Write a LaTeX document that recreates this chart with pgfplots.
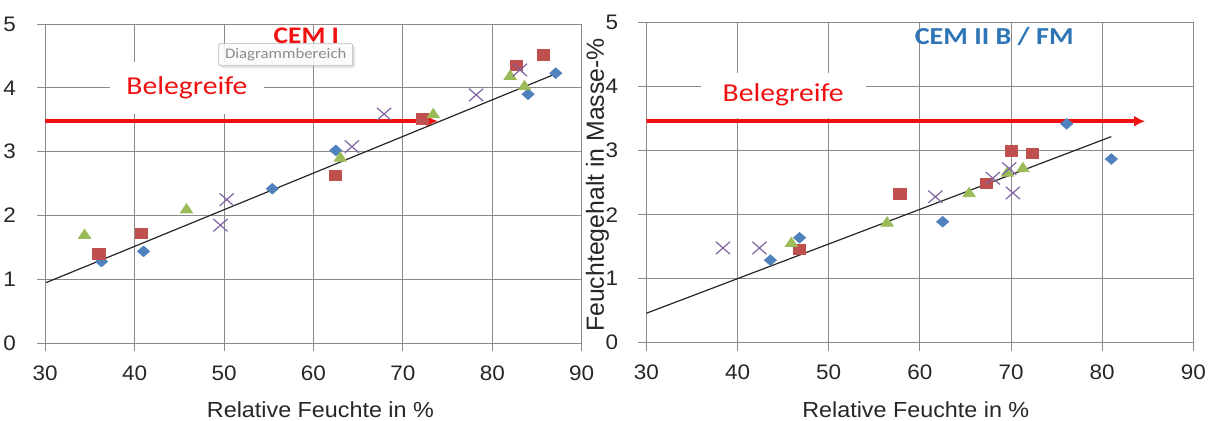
\documentclass[border=0pt]{standalone}
\usepackage{fontspec}
\setmainfont[FakeStretch=1.07]{Liberation Sans}
\newfontfamily\plainsans{Liberation Sans}
\newfontfamily\calibri[FakeStretch=1.15]{Carlito}
\usepackage{pgfplots}
\pgfplotsset{compat=1.18}
\usetikzlibrary{arrows.meta,shadows}

\definecolor{xlblue}{HTML}{4F81BD}
\definecolor{xlred}{HTML}{C0504D}
\definecolor{xlgreen}{HTML}{9BBB59}
\definecolor{xlpurple}{HTML}{8064A2}
\definecolor{gridgray}{HTML}{8A8A8A}
\definecolor{cemblue}{HTML}{2E75B6}
\definecolor{signalred}{HTML}{F01010}

\tikzset{
  reifetext/.style={fill=white, text=signalred, inner sep=0pt,
    font=\calibri\fontsize{12.9}{14}\selectfont},
}

\pgfplotsset{
  feuchte/.style={
    scale only axis,
    xmin=30, xmax=90, ymin=0, ymax=5,
    xtick={30,40,...,90}, ytick={0,1,...,5},
    grid=major,
    major grid style={gridgray, line width=0.5pt},
    axis line style={gridgray, line width=0.5pt},
    tick style={gridgray, line width=0.5pt},
    tick align=outside, tick pos=left, major tick length=4pt,
    /pgf/number format/assume math mode=true,
    tick label style={font=\fontsize{10.5}{12}\selectfont, text=black!85},
    xticklabel style={inner sep=0pt, anchor=north, yshift=-6.9pt},
    xlabel style={font=\fontsize{10.9}{12}\selectfont, text=black!85, inner sep=0pt,
      anchor=north, yshift=-29.2pt},
    xlabel={Relative Feuchte in \%},
  },
  diamondmark/.style={only marks, mark=square*, mark size=1.86pt,
    mark options={xscale=1.14, rotate=45, fill=xlblue, draw=xlblue}},
  squaremark/.style={only marks, mark=square*, mark size=2.67pt,
    mark options={xscale=1.14, fill=xlred, draw=xlred}},
  trianglemark/.style={only marks, mark=triangle*, mark size=3.1pt,
    mark options={xscale=1.14, fill=xlgreen, draw=xlgreen}},
  crossmark/.style={only marks, mark=x, mark size=4.4pt,
    mark options={xscale=1.14, draw=xlpurple, line width=0.6pt}},
  trend/.style={black!85, line width=0.6pt},
  reifepfeil/.style={signalred, line width=1.8pt, -{Latex[length=5.5pt,width=5.5pt]}},
}

\begin{document}
\begin{tikzpicture}
\useasboundingbox (0,0) rectangle (608.5pt,-210.5pt);

% CEM I
\begin{axis}[feuchte,
  at={(22.6pt,-171.65pt)}, anchor=south west,
  width=268.25pt, height=159.65pt,
  yticklabel style={inner sep=0pt, anchor=east, xshift=-10.5pt},
  xlabel style={at={(axis description cs:0.513,0)}},
]
\addplot[diamondmark] coordinates {(36.3,1.28) (41.0,1.44) (55.4,2.42) (62.5,3.02) (84.0,3.90) (87.1,4.23)};
\addplot[squaremark] coordinates {(36.0,1.40) (40.8,1.72) (62.5,2.63) (72.2,3.51) (82.7,4.35) (85.7,4.52)};
\addplot[trianglemark] coordinates {(34.4,1.69) (45.8,2.09) (63.0,2.90) (73.4,3.58) (82.0,4.18) (83.6,4.02)};
\addplot[crossmark] coordinates {(49.6,1.85) (50.3,2.25) (64.3,3.08) (67.9,3.59) (78.2,3.89) (83.1,4.28)};
\addplot[trend] coordinates {(30.1,0.95) (87.1,4.22)};
\addplot[reifepfeil] coordinates {(30,3.48) (73.9,3.48)};
\node[reifetext, minimum width=77.3pt, minimum height=25.9pt] at (axis cs:45.85,4.0) {Belegreife};
\node[text=signalred, font=\calibri\bfseries\fontsize{11.9}{14}\selectfont] at (axis cs:59.2,4.81) {CEM I};
\node[draw=gray!55, fill=white, fill opacity=0.85, text opacity=1, text=gray!90,
  rounded corners=1pt, inner sep=0pt, minimum width=67pt, minimum height=11pt,
  font=\calibri\fontsize{7.3}{9}\selectfont,
  drop shadow={opacity=0.2, shadow xshift=1.2pt, shadow yshift=-1.2pt}]
  at (axis cs:56.9,4.52) {Diagrammbereich};
\end{axis}

% CEM II B / FM
\begin{axis}[feuchte,
  at={(323.2pt,-171.35pt)}, anchor=south west,
  width=273.5pt, height=160pt,
  yticklabel style={inner sep=0pt, anchor=east, xshift=-10pt},
  xlabel style={at={(axis description cs:0.4925,0)}},
  ylabel={Feuchtegehalt in Masse-\%},
  ylabel style={font=\plainsans\fontsize{12.4}{14}\selectfont, text=black!85, inner sep=0pt,
    at={(axis description cs:-0.0894,0.493)}, anchor=center},
]
\addplot[diamondmark] coordinates {(43.6,1.29) (46.8,1.64) (62.5,1.89) (76.1,3.42) (81.0,2.87)};
\addplot[squaremark] coordinates {(46.8,1.46) (57.8,2.33) (67.3,2.49) (70.0,3.00) (72.3,2.96)};
\addplot[trianglemark] coordinates {(45.9,1.55) (56.4,1.87) (65.4,2.33) (69.6,2.65) (71.3,2.72)};
\addplot[crossmark] coordinates {(38.4,1.48) (42.4,1.48) (61.7,2.28) (68.0,2.57) (69.8,2.72) (70.2,2.34)};
\addplot[trend] coordinates {(30,0.46) (81.0,3.22)};
\addplot[reifepfeil] coordinates {(30,3.46) (84.7,3.46)};
\node[reifetext, minimum width=82.5pt, minimum height=22.5pt] at (axis cs:45.0,3.87) {Belegreife};
\node[text=cemblue, font=\calibri\bfseries\fontsize{12.2}{14}\selectfont] at (axis cs:68.15,4.78) {CEM II B / FM};
\end{axis}
\end{tikzpicture}
\end{document}
